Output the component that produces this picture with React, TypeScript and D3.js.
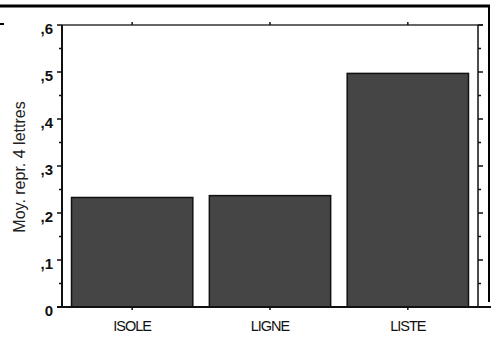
import React from "react";
import * as d3 from "d3";

const categories = ["ISOLE", "LIGNE", "LISTE"];
const values = [0.233, 0.237, 0.497];
const yTicks = [0, 0.1, 0.2, 0.3, 0.4, 0.5, 0.6];
const yTickLabels = ["0", ",1", ",2", ",3", ",4", ",5", ",6"];
const yMinorTicks = [0.05, 0.15, 0.25, 0.35, 0.45, 0.55];
const yTitle = "Moy. repr. 4 lettres";

const W = 491;
const H = 338;
const L = 62;
const R = 478;
const T = 25;
const B = 307;

export default function App() {
  const x = d3
    .scaleBand<string>()
    .domain(categories)
    .range([L, R])
    .paddingInner(0.12)
    .paddingOuter(0.069);
  const y = d3.scaleLinear().domain([0, 0.6]).range([B, T]);
  const font = "Arial, 'Liberation Sans', Helvetica, sans-serif";

  return (
    <div style={{ position: "absolute", left: 0, top: 0 }}>
      <svg width={W} height={H} style={{ display: "block", background: "#fff" }}>
        {/* outer frame pieces */}
        <line x1={0} x2={490} y1={6} y2={6} stroke="#000" strokeWidth={3} />
        <line x1={489} x2={489} y1={5} y2={302} stroke="#000" strokeWidth={2} />
        <line x1={0} x2={4} y1={24} y2={24} stroke="#000" strokeWidth={2} />

        {/* bars */}
        {categories.map((c, i) => (
          <rect
            key={c}
            x={x(c)!}
            y={y(values[i])}
            width={x.bandwidth()}
            height={B - y(values[i])}
            fill="#454545"
            stroke="#111"
            strokeWidth={1.5}
          />
        ))}

        {/* frame lines */}
        <line x1={L} x2={483} y1={T} y2={T} stroke="#333" strokeWidth={1.5} />
        <line x1={57} x2={491} y1={B} y2={B} stroke="#111" strokeWidth={2} />
        <line x1={L} x2={L} y1={T} y2={B} stroke="#111" strokeWidth={2} />
        <line x1={R} x2={R} y1={T} y2={B} stroke="#111" strokeWidth={1.5} />

        {/* y ticks */}
        {yTicks.map((t) => (
          <g key={"t" + t}>
            <line x1={L - 5} x2={L} y1={y(t)} y2={y(t)} stroke="#111" strokeWidth={1.5} />
            <line x1={R} x2={R + 5} y1={y(t)} y2={y(t)} stroke="#111" strokeWidth={1.5} />
          </g>
        ))}
        {yMinorTicks.map((t) => (
          <g key={"m" + t}>
            <line x1={L - 3} x2={L} y1={y(t)} y2={y(t)} stroke="#111" strokeWidth={1.5} />
            <line x1={R} x2={R + 3} y1={y(t)} y2={y(t)} stroke="#111" strokeWidth={1.5} />
          </g>
        ))}
        {yTicks.map((t, i) => (
          <text
            key={"l" + t}
            x={53}
            y={y(t) + 9}
            textAnchor="end"
            fontFamily={font}
            fontWeight="bold"
            fontSize={15}
            fill="#111"
          >
            {yTickLabels[i]}
          </text>
        ))}

        {/* x ticks top & bottom */}
        {categories.map((c) => {
          const cx = x(c)! + x.bandwidth() / 2;
          return (
            <g key={"x" + c}>
              <line x1={cx} x2={cx} y1={T - 3} y2={T} stroke="#111" strokeWidth={1.5} />
              <line x1={cx} x2={cx} y1={B} y2={B + 3} stroke="#111" strokeWidth={1.5} />
              <text
                x={cx}
                y={331}
                textAnchor="middle"
                fontFamily={font}
                fontSize={14.5}
                letterSpacing={-1}
                fill="#111"
              >
                {c}
              </text>
            </g>
          );
        })}

        {/* y title */}
        <text
          transform={`translate(25, ${167}) rotate(-90)`}
          textAnchor="middle"
          fontFamily={font}
          fontSize={16}
          fill="#222"
        >
          {yTitle}
        </text>
      </svg>
    </div>
  );
}
